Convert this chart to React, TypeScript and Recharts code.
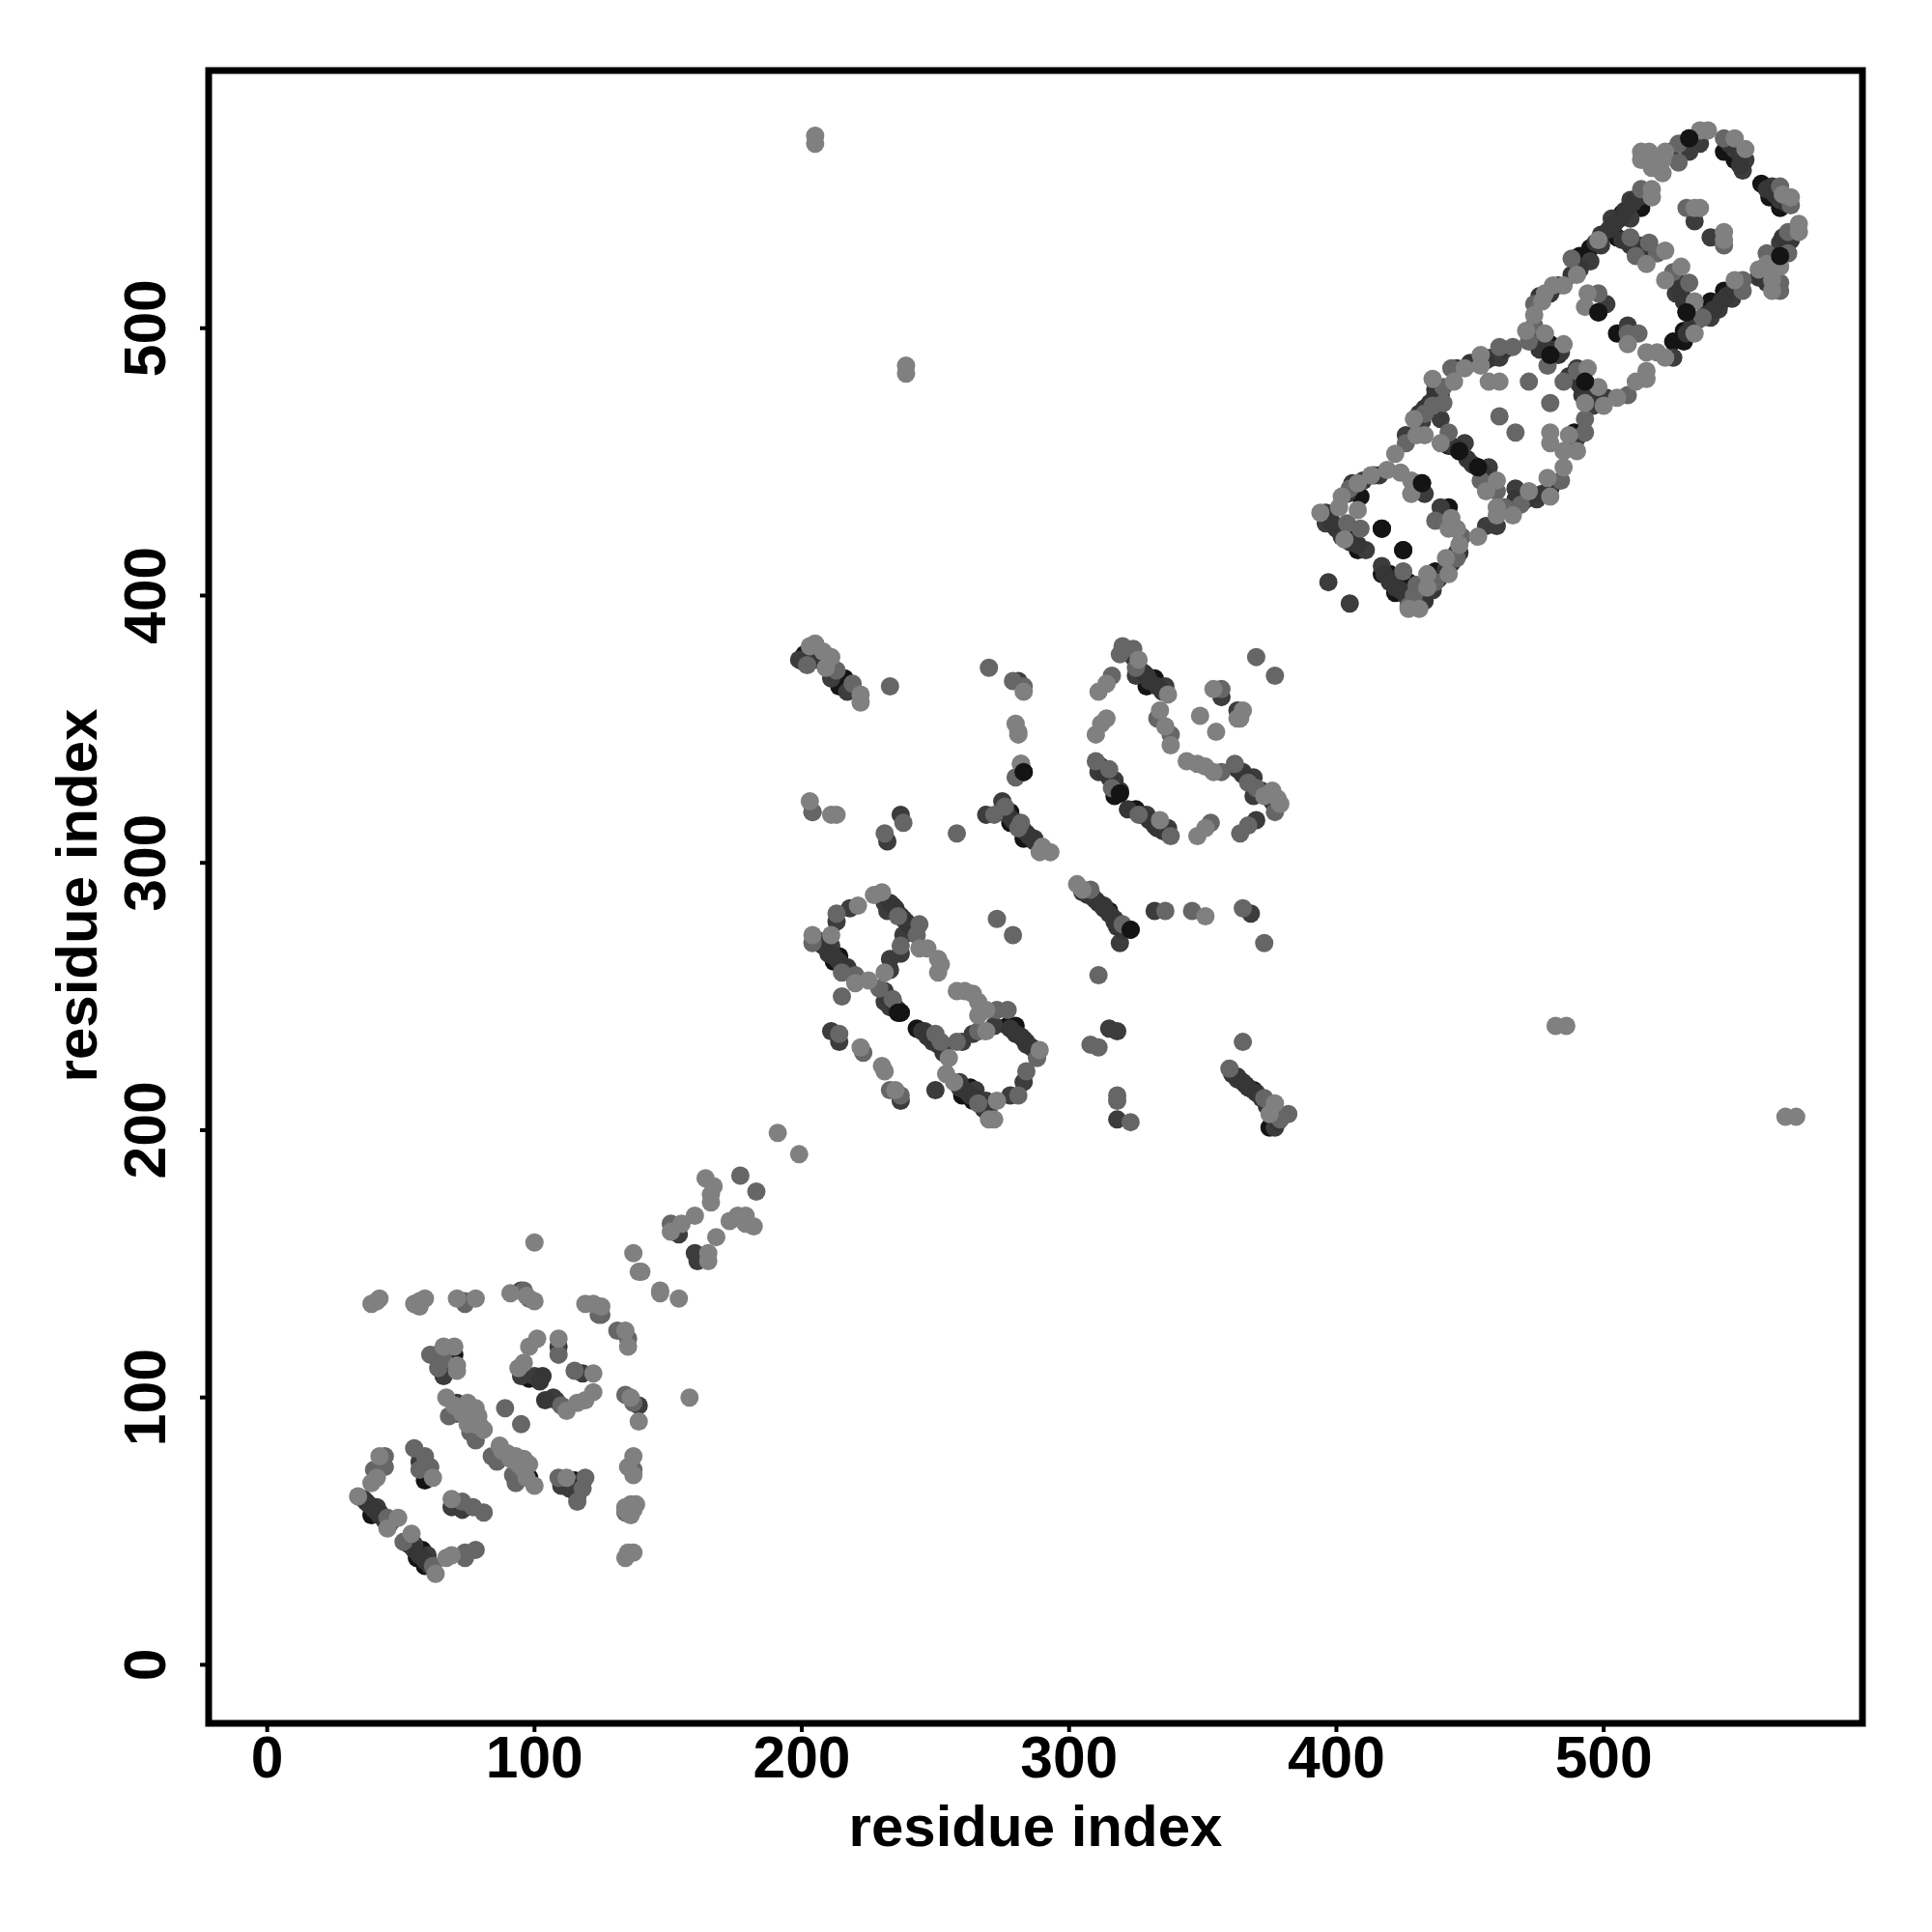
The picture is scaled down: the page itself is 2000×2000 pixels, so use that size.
import React from 'react';
import { ScatterChart, Scatter, XAxis, YAxis, ReferenceArea } from 'recharts';

type P = [number, number];

const blackPoints: P[] = [
  [70,116],[98,107],[98,70],[115,69],[37,61],[39,59],[39,56],[59,69],[58,43],[56,40],[59,37],
  [234,284],[237,280],[214,265],[212,263],[237,244],[236,244],[243,238],[277,239],[280,239],[283,234],[263,216],[264,211],[260,213],
  [201,378],[216,369],[214,366],[283,334],[278,319],[278,315],[284,311],[283,309],
  [332,369],[329,366],[319,326],[317,325],[325,320],[315,282],[323,275],[369,215],[375,201],
  [417,425],[425,417],[403,424],[406,421],[408,417],[409,437],[432,442],[442,456],[446,454],[453,448],[456,442],[442,433],
  [437,409],[417,408],[420,408],[423,404],[422,401],[427,405],[480,440],[489,461],[493,480],[480,494],[480,490],
  [532,571],[545,566],[549,563],[559,554],[562,549],[566,545],[566,527],[545,514],[540,510],[530,499],[530,495],[526,495],[531,506],[505,534],[507,543],[514,545],[495,530],[491,527],[498,506],[505,498],[493,480],
];

const darkPoints: P[] = [
  [95,140],[67,110],[66,108],[95,108],[100,108],[109,119],[118,109],[107,100],[108,99],[139,97],[71,98],[71,94],[95,71],[110,67],[113,66],[116,63],
  [41,59],[42,57],[57,76],[69,59],[73,58],[55,45],[60,41],[154,161],[160,154],[161,151],
  [218,283],[213,278],[231,285],[232,282],[239,278],[238,273],[237,266],[233,264],[233,260],[211,269],[217,261],[231,252],[231,248],[233,246],[211,237],[214,233],[237,211],
  [246,237],[249,233],[260,233],[264,236],[272,239],[284,232],[283,218],[278,213],[259,218],[265,215],[269,211],[250,215],
  [199,376],[201,375],[211,369],[217,364],[281,368],[237,318],[232,308],[269,318],[287,309],[204,319],[275,323],
  [325,370],[329,370],[336,366],[312,336],[317,331],[311,334],[329,318],[332,314],[337,313],[370,316],[365,334],[369,332],[369,325],[357,362],[363,357],
  [310,286],[313,284],[317,279],[319,270],[332,282],[368,281],[315,238],[318,237],[318,204],[363,219],[366,217],[377,201],
  [397,405],[405,397],[396,431],[396,427],[411,417],[416,445],[433,438],[426,460],[432,465],[437,475],[439,466],[458,489],[461,489],[448,457],[457,448],[439,433],[456,426],[460,426],
  [445,416],[417,411],[431,396],[467,440],[475,436],[490,459],[484,491],[501,474],[496,471],
  [532,566],[536,569],[549,567],[553,563],[552,559],[563,553],[566,548],[569,532],[566,532],[548,511],[543,507],[540,504],[526,489],[527,513],[513,531],[503,541],[510,541],[510,548],[499,531],[495,525],[501,509],[509,501],[500,474],[490,485],[534,540],[540,534],
];

// further marks along the thick diagonal bands
const bandPoints: P[] = [
  [36,62],[38,60],[40,58],[42,56],[44,54],[46,53],[53,45],[55,43],[57,41],[59,39],[61,37],[102,106],[103,108],[104,99],
  [204,377],[206,376],[233,285],[235,283],[236,281],[238,279],[240,277],[206,271],[208,269],[210,266],[212,265],[214,263],[216,261],[218,259],
  [232,250],[234,248],[235,246],[236,245],[245,237],[247,235],[249,234],[251,232],[253,229],[259,216],[261,215],[263,213],[265,212],[267,210],[268,208],[270,206],
  [278,238],[280,236],[282,235],[284,233],[286,231],[288,228],
  [277,318],[279,316],[281,314],[283,312],[285,310],[287,308],[289,306],
  [305,289],[307,288],[309,287],[311,285],[313,283],[315,281],[317,278],[318,276],[320,275],
  [361,221],[363,220],[365,218],[367,216],[370,214],[372,212],[374,209],[376,206],[378,203],
  [313,334],[315,332],[317,329],[319,327],[322,320],[327,318],[330,316],[333,313],[335,312],[337,311],
  [322,379],[324,377],[326,373],[328,371],[330,368],[333,366],[335,364],
  [363,335],[365,333],[367,331],[369,329],[372,327],[374,325],[376,323],
  [418,408],[420,405],[422,403],[424,402],[426,400],[428,398],[431,468],[433,470],[435,472],[437,477],[439,475],
  [443,456],[445,455],[449,451],[451,449],[455,446],[458,443],[465,433],[467,436],[471,436],[473,438],[477,438],[481,442],[488,456],
  [445,485],[450,487],[456,488],[463,492],[475,498],[477,495],[481,492],[483,490],[476,492],[487,482],[491,479],[495,477],[497,474],[492,475],
  [497,532],[499,535],[502,537],[504,539],[506,541],[508,544],[511,547],[513,549],[531,498],[533,501],[535,503],[538,505],[541,507],[544,510],[546,512],[549,515],
  [507,533],[510,531],[513,529],[516,528],[518,528],[527,519],[528,516],[529,513],[530,510],[476,512],[480,513],[483,516],[488,520],[491,522],
  [525,566],[520,562],[547,569],[551,565],[551,561],[561,552],[564,550],[568,547],[567,534],[570,533],[558,519],[561,517],[564,518],
  [433,398],[436,402],[438,406],[441,410],[443,412],[446,416],[398,428],[400,425],[402,422],[405,420],[408,419],[404,438],[406,442],[410,443],[414,445],
];

const midPoints: P[] = [
  [74,136],[74,135],[96,140],[98,137],[125,131],[124,131],[131,125],[135,122],
  [61,116],[65,117],[64,111],[66,114],[109,116],[115,110],[110,97],[134,101],[137,98],[137,73],[134,57],
  [68,93],[78,89],[76,87],[78,84],[89,96],[95,90],[84,78],[86,76],[92,71],[93,68],[109,70],[119,70],[118,66],[116,61],
  [44,78],[44,74],[40,73],[45,55],[55,81],[59,78],[61,74],[57,73],[73,61],[77,59],[81,57],[51,46],[62,37],[74,42],[74,40],[78,43],
  [151,165],[177,183],[183,177],
  [213,281],[236,280],[244,277],[243,273],[237,269],[204,270],[215,259],[220,258],[215,250],[234,249],[229,253],[214,236],[223,229],[233,215],[237,213],
  [273,245],[277,245],[250,236],[252,233],[258,233],[266,237],[288,227],[284,222],[281,213],[266,210],[273,279],[279,273],
  [202,374],[213,372],[219,367],[233,366],[270,373],[279,368],[283,366],[282,337],[280,332],[204,319],[238,315],[231,311],[258,311],[272,318],[276,321],[282,315],[281,313],
  [320,381],[319,378],[324,380],[325,373],[316,370],[333,354],[338,348],[310,338],[315,335],[316,328],[326,318],[338,310],[353,315],[367,314],[364,311],[357,334],[362,337],[367,330],[370,328],[377,319],[357,365],[370,377],[377,370],
  [308,290],[320,277],[336,282],[346,282],[365,283],[373,270],[311,258],[308,232],[311,231],[318,213],[318,211],[323,203],[365,233],[360,223],[373,212],[379,204],[382,206],
  [404,427],[409,425],[405,440],[426,457],[433,468],[436,471],[440,472],[440,478],[443,485],[461,493],[466,493],[472,480],[480,472],[461,467],[467,461],[442,461],[454,443],[460,439],[437,428],[447,422],[445,414],[437,405],[425,409],[430,404],[427,396],[429,400],
  [463,433],[469,434],[484,443],[493,461],[493,466],[485,480],[490,484],[474,501],[472,495],[479,486],
  [528,569],[528,562],[545,571],[566,553],[570,546],[569,536],[561,528],[569,528],[566,517],[566,514],[552,518],[552,514],[537,504],[532,517],[526,521],[520,528],[517,532],[510,534],[512,527],[514,552],[488,526],[474,509],[498,513],[509,498],[513,498],[509,475],[531,545],[545,531],
];

const lightPoints: P[] = [
  [100,158],[41,136],[39,135],[42,137],[57,136],[55,135],[59,137],[57,134],[71,137],[78,137],[91,139],[97,138],[100,136],[119,135],[122,135],[125,134],[134,125],[135,119],
  [158,100],[137,154],[140,147],[139,147],[147,140],[147,139],[154,137],
  [66,119],[70,119],[71,110],[71,112],[101,122],[98,119],[94,111],[96,113],[109,122],[122,109],[112,95],[116,98],[119,99],[122,102],[136,100],[139,91],[137,78],[135,74],[137,71],[136,58],[138,60],[135,42],[137,42],[134,40],
  [67,100],[75,98],[78,96],[79,93],[75,90],[81,88],[87,82],[90,79],[93,78],[96,77],[98,75],[100,67],[112,70],
  [42,78],[41,70],[39,68],[34,63],[49,55],[45,51],[62,70],[69,62],[54,49],[63,34],[67,40],[69,41],
  [191,199],[199,191],[164,182],[167,179],[166,176],[166,173],[160,168],[155,165],[151,162],[173,166],[176,168],[179,168],[182,164],[179,165],[168,160],[165,154],[165,151],
  [230,289],[227,288],[221,284],[204,273],[211,273],[244,268],[247,268],[251,264],[252,262],[251,259],[220,255],[225,256],[231,259],[222,231],[230,224],[231,222],[235,215],
  [258,252],[261,252],[264,251],[266,248],[269,245],[266,243],[255,227],[254,221],[257,218],[269,237],[289,230],[273,211],[272,204],[270,204],
  [205,382],[203,381],[208,379],[211,377],[209,373],[222,363],[222,360],[280,352],[281,349],[281,348],[283,364],[282,337],
  [203,323],[211,318],[213,318],[290,306],[293,304],[289,304],
  [326,376],[337,363],[314,367],[311,364],[314,354],[312,352],[310,348],[334,357],[336,351],[338,344],[334,316],[351,313],[348,310],
  [344,338],[348,337],[351,336],[354,334],[373,325],[376,327],[378,324],[379,322],[354,365],[349,355],[355,349],[365,357],[364,354],[363,354],
  [303,292],[305,290],[351,280],[377,210],[375,206],[482,239],[486,239],[568,205],[572,205],[205,572],[205,569],[239,486],[239,483],
  [394,431],[401,433],[403,421],[402,437],[408,432],[408,442],[413,445],[419,447],[424,446],[428,443],[428,438],[422,453],[430,460],[433,460],[429,466],
  [436,481],[444,480],[448,485],[454,490],[454,486],[457,480],[461,480],[480,461],[480,457],[439,457],[460,443],[456,439],[443,429],[442,425],[445,425],[446,419],
  [453,422],[460,433],[460,430],[441,414],[442,408],[434,408],[434,403],[427,395],[431,395],[466,430],[472,439],[480,437],[479,444],[485,448],[485,454],[490,454],[487,460],[494,485],[493,472],[498,478],[500,471],[471,499],[478,498],[485,494],
  [514,566],[517,566],[514,563],[518,560],[523,566],[522,563],[522,558],[536,574],[539,574],[549,571],[553,567],[567,550],[570,549],[573,539],[573,536],[566,523],[561,524],[558,522],[563,518],[563,514],
  [549,518],[534,498],[523,489],[534,510],[529,523],[523,518],[523,529],[516,524],[518,549],[518,552],[498,533],[490,520],[485,516],[481,516],[478,513],[477,510],[474,505],[494,513],[493,508],[509,494],[516,491],[520,491],[516,484],[516,481],[512,480],[505,474],
  [534,545],[536,545],[545,536],[545,533],
  [70,97],[72,96],[73,94],[75,92],[77,90],[80,89],[88,80],[91,77],[94,75],[96,73],[97,70],[135,57],[136,56],[137,58],[134,58],[134,59],[136,60],
];

// dark marks that sit on top of lighter neighbours
const topPoints: P[] = [
  [237,244],[236,244],[283,334],[323,275],[319,326],[417,425],[425,417],[446,454],[453,448],[432,442],[493,480],[531,506],[498,506],[480,490],[566,527],[532,571],
];

const xTicks = [0, 100, 200, 300, 400, 500];
const yTicks = [0, 100, 200, 300, 400, 500];
const xDomain = [-21.9, 596.8];
const yDomain = [-21.9, 596.4];
const axisTitle = 'residue index';
const fontFamily = '"Liberation Sans", Arial, sans-serif';

const XTick = (p: any) => (
  <text x={p.x} y={1840} textAnchor="middle" fontFamily={fontFamily} fontWeight={700} fontSize={60.5} fill="#000">
    {p.payload.value}
  </text>
);
const YTick = (p: any) => (
  <text transform={`translate(171,${p.y}) rotate(-90)`} textAnchor="middle" fontFamily={fontFamily} fontWeight={700} fontSize={60.5} fill="#000">
    {p.payload.value}
  </text>
);
const dot = (color: string) => (p: any) => <circle cx={p.cx} cy={p.cy} r={9.5} fill={color} />;

const series: [P[], string][] = [
  [blackPoints, '#141414'],
  [darkPoints, '#3c3c3c'],
  [bandPoints, '#363636'],
  [midPoints, '#666666'],
  [lightPoints, '#808080'],
  [topPoints, '#141414'],
];

export default function App() {
  return (
    <div style={{ position: 'absolute', left: 0, top: 0, width: 2000, height: 2000, background: '#fff' }}>
      <ScatterChart width={2000} height={2000} margin={{ left: 215, top: 73, right: 72, bottom: 215 }}>
        <XAxis
          type="number" dataKey="x" domain={xDomain} ticks={xTicks} allowDataOverflow interval={0}
          height={1} tick={XTick} tickSize={9} tickLine={{ stroke: '#000', strokeWidth: 4 }} axisLine={false}
        />
        <YAxis
          type="number" dataKey="y" domain={yDomain} ticks={yTicks} allowDataOverflow interval={0}
          width={1} tick={YTick} tickSize={9} tickLine={{ stroke: '#000', strokeWidth: 4 }} axisLine={false}
        />
        <ReferenceArea x1={xDomain[0]} x2={xDomain[1]} y1={yDomain[0]} y2={yDomain[1]} fill="none" fillOpacity={0} stroke="#000" strokeWidth={7} ifOverflow="visible" />
        {series.map(([pts, color], i) => (
          <Scatter
            key={i}
            data={pts.map(([x, y]) => ({ x, y }))}
            shape={dot(color)}
            isAnimationActive={false}
          />
        ))}
      </ScatterChart>
      <div style={{ position: 'absolute', left: 1072, top: 1862, transform: 'translateX(-50%)', fontFamily, fontWeight: 700, fontSize: 60, lineHeight: '57px', whiteSpace: 'nowrap' }}>
        {axisTitle}
      </div>
      <div style={{ position: 'absolute', left: 79, top: 927, transform: 'translate(-50%,-50%) rotate(-90deg)', fontFamily, fontWeight: 700, fontSize: 60, lineHeight: '57px', whiteSpace: 'nowrap' }}>
        {axisTitle}
      </div>
    </div>
  );
}
